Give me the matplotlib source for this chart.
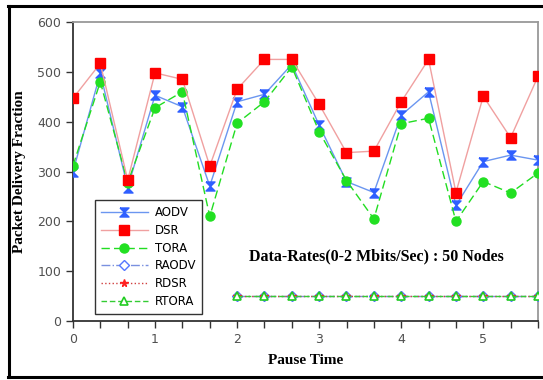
import matplotlib
matplotlib.use("Agg")
import matplotlib.pyplot as plt
from matplotlib.path import Path
from matplotlib.ticker import MultipleLocator
from matplotlib.lines import Line2D

# pause time samples (every 1/3 unit)
pause_time = [0, 0.333, 0.667, 1.0, 1.333, 1.667, 2.0, 2.333, 2.667,
              3.0, 3.333, 3.667, 4.0, 4.333, 4.667, 5.0, 5.333, 5.667]

aodv = [300, 497, 268, 453, 430, 271, 440, 455, 515,
        393, 280, 258, 413, 460, 232, 320, 333, 323]
dsr = [447, 517, 283, 498, 485, 311, 465, 525, 525,
       435, 338, 341, 440, 525, 258, 451, 368, 491]
tora = [312, 480, 278, 428, 460, 210, 397, 440, 510,
        380, 282, 205, 396, 407, 200, 280, 257, 297]

# reliable variants only sampled from pause time 2 onward
pause_time_r = pause_time[6:]
raodv = [50, 50, 50, 50, 50, 50, 50, 50, 50, 50, 50, 50]
rdsr = [50, 50, 50, 50, 50, 50, 50, 50, 50, 50, 50, 50]
rtora = [50, 50, 50, 50, 50, 50, 50, 50, 50, 50, 50, 50]

# hourglass marker for AODV
hourglass = Path([(-1, 1), (1, 1), (0, 0), (1, -1), (-1, -1), (0, 0), (-1, 1)])

fig = plt.figure(figsize=(5.43, 3.80), dpi=100)
ax = fig.add_axes([0.1344, 0.155, 0.8564, 0.787])

ax.plot(pause_time, aodv, color="#6b96f0", lw=1.0, marker=hourglass,
        ms=6.5, mfc="#2f5fff", mec="#2f5fff", label="AODV", zorder=3)
ax.plot(pause_time, dsr, color="#f0a0a0", lw=1.0, marker="s",
        ms=7, mfc="#ff0000", mec="#ff0000", label="DSR", zorder=4)
ax.plot(pause_time, tora, color="#22dd22", lw=1.0, ls=(0, (6, 3)), marker="o",
        ms=6.5, mfc="#22e022", mec="#22e022", label="TORA", zorder=3)
ax.plot(pause_time_r, raodv, color="#7a90e0", lw=1.0, ls="-.", marker="D",
        ms=5, mfc="white", mec="#5577ff", label="RAODV", zorder=3)
ax.plot(pause_time_r, rdsr, color="#d04040", lw=1.0, ls=":", marker="*",
        ms=5.5, mfc="#ff2020", mec="#ff2020", label="RDSR", zorder=4)
ax.plot(pause_time_r, rtora, color="#33cc33", lw=1.0, ls=(0, (4, 2)), marker="^",
        ms=6, mfc="white", mec="#22cc22", mew=1.2, label="RTORA", zorder=5)

ax.set_xlim(0, 5.667)
ax.set_ylim(0, 600)
ax.xaxis.set_major_locator(MultipleLocator(1))
ax.xaxis.set_minor_locator(MultipleLocator(1 / 3))
ax.yaxis.set_major_locator(MultipleLocator(100))

ax.tick_params(which="both", direction="out", colors="#333333",
               labelcolor="#505050", labelsize=9)
ax.tick_params(which="major", length=5, width=1)
ax.tick_params(which="minor", length=5, width=1)

for side in ("left", "bottom"):
    ax.spines[side].set_color("#333333")
    ax.spines[side].set_linewidth(1.3)
for side in ("top", "right"):
    ax.spines[side].set_color("#999999")
    ax.spines[side].set_linewidth(1.3)

label_font = {"family": "Liberation Serif", "weight": "bold", "size": 11}
ax.set_xlabel("Pause Time", fontdict=label_font, labelpad=6)
ax.set_ylabel("Packet Delivery Fraction", fontdict=label_font, labelpad=8)

ax.text(3.70, 130, "Data-Rates(0-2 Mbits/Sec) : 50 Nodes", ha="center",
        va="center", family="Liberation Serif", weight="bold", fontsize=11.5)

leg = ax.legend(loc="lower left", bbox_to_anchor=(0.034, 0.005), fontsize=8.5,
                handlelength=4.0, handletextpad=0.6, labelspacing=0.4,
                borderpad=0.5, fancybox=False, framealpha=1)
leg.get_frame().set_edgecolor("#333333")
leg.get_frame().set_linewidth(1.0)

# outer black frame around the whole figure
for xs, ys in (([0.014, 1.0], [0.984, 0.984]), ([0.016, 0.016], [0.008, 0.984]),
               ([0.014, 1.0], [0.008, 0.008])):
    fig.add_artist(Line2D(xs, ys, color="black", lw=2.2, transform=fig.transFigure))

fig.savefig("out.png", dpi=100)
